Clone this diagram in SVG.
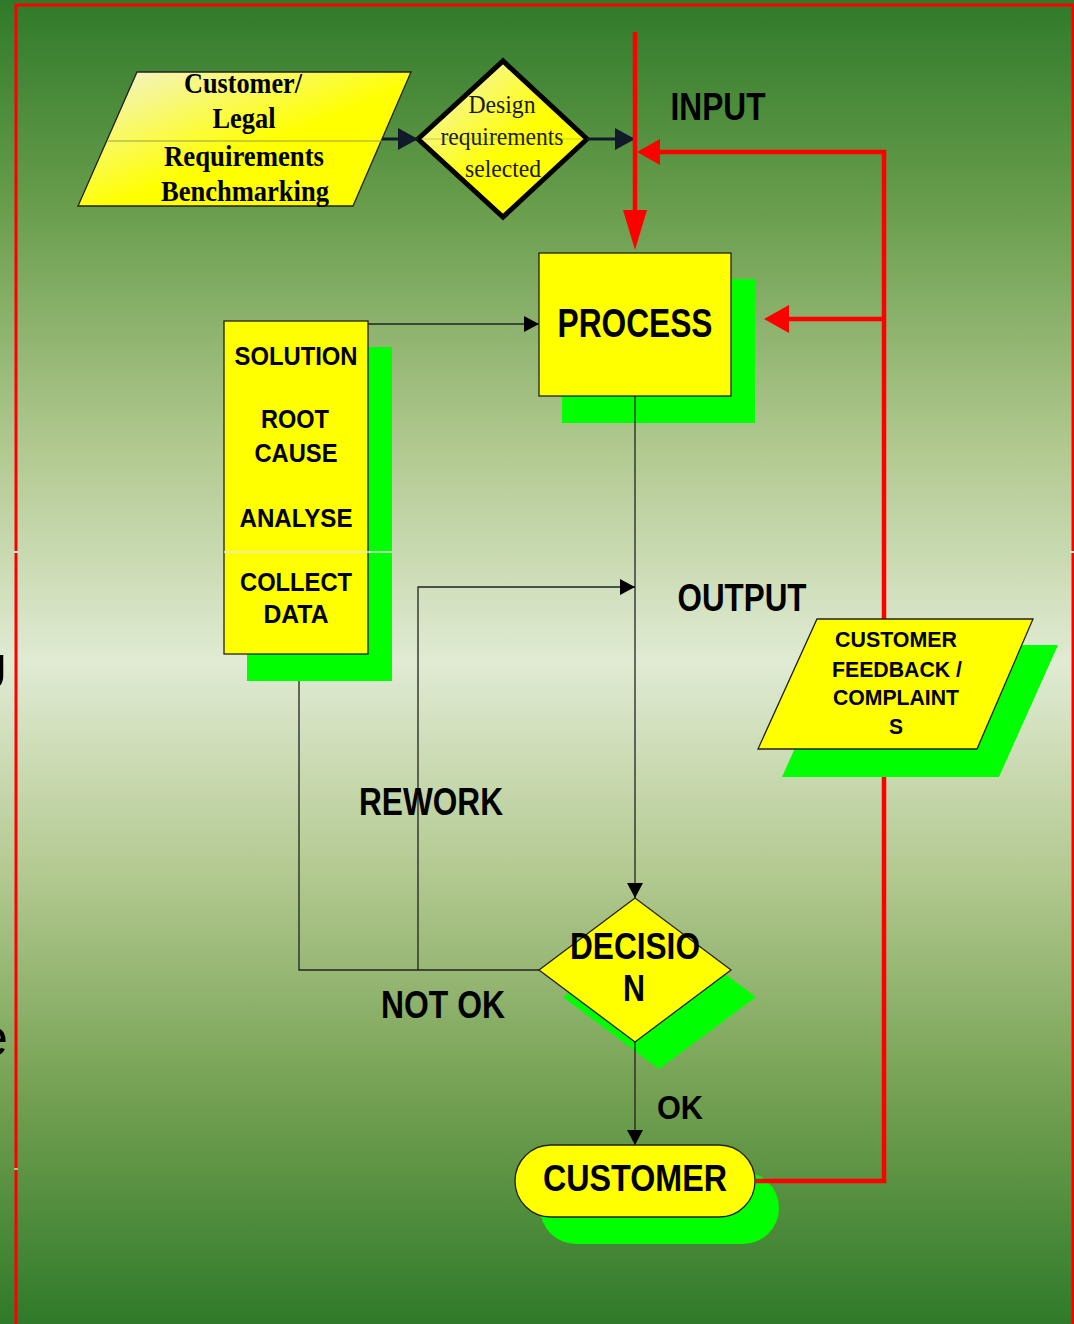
<svg xmlns="http://www.w3.org/2000/svg" width="1074" height="1324" viewBox="0 0 1074 1324">
<defs>
<linearGradient id="bg" x1="0" y1="0" x2="0" y2="1">
<stop offset="0" stop-color="#2f7a2a"/>
<stop offset="0.15" stop-color="#669c4a"/>
<stop offset="0.34" stop-color="#b2c990"/>
<stop offset="0.5" stop-color="#e0ebd3"/>
<stop offset="0.66" stop-color="#b3c990"/>
<stop offset="0.83" stop-color="#72a050"/>
<stop offset="1" stop-color="#2f7a2a"/>
</linearGradient>
<linearGradient id="ylw" x1="0" y1="0" x2="1" y2="1">
<stop offset="0" stop-color="#f2f2dc"/>
<stop offset="0.55" stop-color="#ffff00"/>
<stop offset="1" stop-color="#ffff00"/>
</linearGradient>
<marker id="blk" markerUnits="userSpaceOnUse" markerWidth="15" markerHeight="16" refX="15" refY="8" orient="auto">
<path d="M0,0 L15,8 L0,16 z" fill="#000"/>
</marker>
<marker id="nav" markerUnits="userSpaceOnUse" markerWidth="20" markerHeight="22" refX="20" refY="11" orient="auto">
<path d="M0,0 L20,11 L0,22 z" fill="#111a2a"/>
</marker>
<style>
.sans{font-family:"Liberation Sans",Arial,sans-serif;font-weight:bold;fill:#000;text-anchor:middle}
.serif{font-family:"Liberation Serif","Times New Roman",serif;text-anchor:middle}
.thin{fill:none;stroke:#222;stroke-width:1.3}
.red{fill:none;stroke:#ff0000;stroke-width:4.5}
.redh{fill:#ff0000}
.box{fill:#ffff00;stroke:#222;stroke-width:1.3}
.shadow{fill:#00ff00}
</style>
</defs>
<rect x="0" y="0" width="1074" height="1324" fill="url(#bg)"/>
<g id="border">
<path d="M16,1324 L16,5 L1073,5 L1073,1324" fill="none" stroke="#ff0000" stroke-width="3"/>
<rect x="14" y="551" width="4" height="2" fill="#e6eedb"/>
<rect x="14" y="1168" width="4" height="2" fill="#a8c488"/>
<rect x="1071" y="551" width="3" height="2" fill="#e6eedb"/>
</g>
<text x="-29" y="690" font-family="Liberation Sans,Arial,sans-serif" font-size="50" fill="#000">U</text>
<text x="-21" y="1055" font-family="Liberation Sans,Arial,sans-serif" font-size="52" fill="#000">e</text>

<g id="node-customer-legal">
<polygon points="137,72 411,72 353,206 78,206" fill="url(#ylw)" stroke="#222" stroke-width="1.3"/>
<line x1="107" y1="141" x2="382" y2="141" stroke="#98a040" stroke-width="1"/>
<g class="serif" font-weight="bold" font-size="30" fill="#000">
<text x="243" y="93" textLength="118" lengthAdjust="spacingAndGlyphs">Customer/</text>
<text x="244" y="128" textLength="63" lengthAdjust="spacingAndGlyphs">Legal</text>
<text x="244" y="166" textLength="160" lengthAdjust="spacingAndGlyphs">Requirements</text>
<text x="245" y="201" textLength="168" lengthAdjust="spacingAndGlyphs">Benchmarking</text>
</g>
</g>

<g id="node-design">
<polygon points="418,139 503,61 587,139 503,217" fill="url(#ylw)" stroke="#000" stroke-width="5" stroke-linejoin="miter"/>
<g class="serif" font-size="25" fill="#1a1a1a">
<text x="502" y="113" textLength="67" lengthAdjust="spacingAndGlyphs">Design</text>
<text x="502" y="145" textLength="123" lengthAdjust="spacingAndGlyphs">requirements</text>
<text x="503" y="177" textLength="76" lengthAdjust="spacingAndGlyphs">selected</text>
</g>
</g>

<g id="node-process">
<rect class="shadow" x="562" y="279" width="193" height="144"/>
<rect class="box" x="539" y="253" width="192" height="143"/>
<text class="sans" x="635" y="337" font-size="40" textLength="155" lengthAdjust="spacingAndGlyphs">PROCESS</text>
</g>

<g id="node-solution">
<rect class="shadow" x="247" y="347" width="145" height="334"/>
<rect class="box" x="224" y="321" width="144" height="333"/>
<line x1="224" y1="552" x2="392" y2="552" stroke="#e4ead8" stroke-width="1.3"/>
<g class="sans" font-size="25">
<text x="296" y="365" textLength="123" lengthAdjust="spacingAndGlyphs">SOLUTION</text>
<text x="295" y="428" textLength="68" lengthAdjust="spacingAndGlyphs">ROOT</text>
<text x="296" y="462" textLength="83" lengthAdjust="spacingAndGlyphs">CAUSE</text>
<text x="296" y="527" textLength="113" lengthAdjust="spacingAndGlyphs">ANALYSE</text>
<text x="296" y="591" textLength="112" lengthAdjust="spacingAndGlyphs">COLLECT</text>
<text x="296" y="623" textLength="65" lengthAdjust="spacingAndGlyphs">DATA</text>
</g>
</g>

<g id="node-decision">
<polygon class="shadow" points="563,997 659,925 756,997 659,1069"/>
<polygon class="box" points="539,970 635,898 731,970 635,1042"/>
<g class="sans" font-size="36">
<text x="635" y="959" textLength="130" lengthAdjust="spacingAndGlyphs">DECISIO</text>
<text x="634" y="1001" textLength="22" lengthAdjust="spacingAndGlyphs">N</text>
</g>
</g>

<g id="node-customer">
<rect class="shadow" x="540" y="1172" width="239" height="72" rx="36"/>
<rect class="box" x="515" y="1145" width="240" height="72" rx="36"/>
<text class="sans" x="635" y="1191" font-size="36" textLength="184" lengthAdjust="spacingAndGlyphs">CUSTOMER</text>
</g>

<g id="connectors">
<line x1="382" y1="139" x2="418" y2="139" stroke="#111a2a" stroke-width="3" marker-end="url(#nav)"/>
<line x1="587" y1="139" x2="635" y2="139" stroke="#111a2a" stroke-width="3" marker-end="url(#nav)"/>
<line x1="421" y1="139" x2="584" y2="139" stroke="#7a8a50" stroke-width="0.8" stroke-opacity="0.5"/>
<line class="red" x1="635" y1="32" x2="635" y2="212"/>
<polygon class="redh" points="623,210 647,210 635,250"/>
<polyline class="red" points="660,152 884,152 884,1181 755,1181"/>
<polygon class="redh" points="637,152 660,139 660,165"/>
<line class="red" x1="788" y1="319" x2="884" y2="319"/>
<polygon class="redh" points="764,319 789,305 789,333"/>
<line class="thin" x1="635" y1="396" x2="635" y2="898" marker-end="url(#blk)"/>
<polyline class="thin" points="368,324 539,324" marker-end="url(#blk)"/>
<polyline class="thin" points="299,681 299,970 540,970"/>
<polyline class="thin" points="418,970 418,587 635,587" marker-end="url(#blk)"/>
<line class="thin" x1="635" y1="1042" x2="635" y2="1145" marker-end="url(#blk)"/>
</g>

<g id="labels" class="sans">
<text x="718" y="120" font-size="38" textLength="95" lengthAdjust="spacingAndGlyphs">INPUT</text>
<text x="742" y="611" font-size="38" textLength="129" lengthAdjust="spacingAndGlyphs">OUTPUT</text>
<text x="431" y="815" font-size="38" textLength="144" lengthAdjust="spacingAndGlyphs">REWORK</text>
<text x="443" y="1018" font-size="38" textLength="124" lengthAdjust="spacingAndGlyphs">NOT OK</text>
<text x="680" y="1119" font-size="34" textLength="46" lengthAdjust="spacingAndGlyphs">OK</text>
</g>

<g id="node-feedback">
<polygon class="shadow" points="841,645 1058,645 999,777 782,777"/>
<polygon class="box" points="817,619 1033,619 977,749 758,749"/>
<g class="sans" font-size="22">
<text x="896" y="647" textLength="122" lengthAdjust="spacingAndGlyphs">CUSTOMER</text>
<text x="897" y="677" textLength="130" lengthAdjust="spacingAndGlyphs">FEEDBACK /</text>
<text x="896" y="705" textLength="126" lengthAdjust="spacingAndGlyphs">COMPLAINT</text>
<text x="896" y="734" textLength="14" lengthAdjust="spacingAndGlyphs">S</text>
</g>
</g>
</svg>
